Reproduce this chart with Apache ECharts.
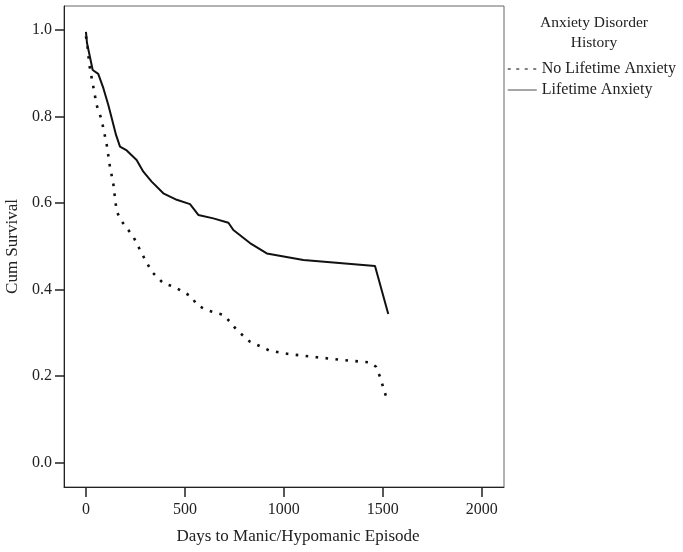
<!DOCTYPE html>
<html>
<head>
<meta charset="utf-8">
<script src="https://cdn.jsdelivr.net/npm/echarts@6/dist/echarts.min.js"></script>
<style>
body { margin: 0; background: #fff; }
#main { width: 683px; height: 552px; }
</style>
</head>
<body>
<div id="main"></div>
<script>
// Kaplan-Meier curves, values
var lifetimeDays = [0, 5, 34, 62, 88, 113, 130, 152, 172, 206, 256, 290, 332, 391, 459, 526, 568, 644, 720, 745, 829, 914, 1099, 1461, 1528];
var lifetimeSurv = [0.995, 0.97, 0.907, 0.898, 0.865, 0.826, 0.796, 0.757, 0.730, 0.721, 0.699, 0.672, 0.649, 0.622, 0.607, 0.597, 0.572, 0.564, 0.554, 0.537, 0.507, 0.483, 0.468, 0.454, 0.343];

var noLifetimeDays = [0, 8, 17, 54, 79, 105, 121, 138, 155, 181, 239, 282, 332, 391, 450, 534, 560, 610, 694, 728, 762, 829, 930, 1031, 1166, 1335, 1436, 1466, 1486, 1517];
var noLifetimeSurv = [0.985, 0.961, 0.919, 0.826, 0.792, 0.734, 0.684, 0.645, 0.580, 0.557, 0.522, 0.483, 0.441, 0.414, 0.405, 0.383, 0.364, 0.352, 0.341, 0.325, 0.306, 0.279, 0.258, 0.250, 0.243, 0.235, 0.231, 0.221, 0.198, 0.152];

var xTicks = [0, 500, 1000, 1500, 2000];
var yTicks = [0, 0.2, 0.4, 0.6, 0.8, 1.0];

function pairs(xs, ys) {
    return xs.map(function (x, i) { return [x, ys[i]]; });
}

var font = '"Liberation Serif", "Times New Roman", serif';
var chart = echarts.init(document.getElementById('main'));

var option = {
    animation: false,
    grid: {
        left: 64, right: 179, top: 6, bottom: 65,
        outerBoundsMode: 'none',
        containLabel: false,
        show: true,
        borderColor: '#666',
        borderWidth: 1
    },
    graphic: [{
        type: 'text',
        x: 594, y: 13,
        style: {
            text: 'Anxiety Disorder\nHistory',
            fontFamily: font,
            fontSize: 15.5,
            lineHeight: 20,
            fill: '#222',
            align: 'center'
        }
    }],
    legend: {
        orient: 'vertical',
        left: 507,
        top: 61,
        padding: 0,
        itemWidth: 29,
        itemHeight: 10,
        itemGap: 5,
        itemStyle: { opacity: 0 },
        textStyle: { fontFamily: font, fontSize: 16, color: '#222' },
        data: [
            { name: 'No Lifetime Anxiety', lineStyle: { color: '#555', type: [3, 5.5], width: 1.5 } },
            { name: 'Lifetime Anxiety', lineStyle: { color: '#888', width: 1.5 } }
        ]
    },
    xAxis: {
        type: 'value',
        min: -111,
        max: 2113,
        name: 'Days to Manic/Hypomanic Episode',
        nameLocation: 'middle',
        nameGap: 41,
        nameTextStyle: { fontFamily: font, fontSize: 17, color: '#222', padding: [0, 0, 0, 28] },
        axisLine: { onZero: false, lineStyle: { color: '#222', width: 1 } },
        axisTick: { customValues: xTicks, length: 10, lineStyle: { color: '#222', width: 1.5 } },
        axisLabel: {
            customValues: xTicks, margin: 15, fontFamily: font, fontSize: 16, color: '#222',
            formatter: function (v) { return String(v); }
        },
        splitLine: { show: false }
    },
    yAxis: {
        type: 'value',
        min: -0.057,
        max: 1.055,
        name: 'Cum Survival',
        nameLocation: 'middle',
        nameGap: 43,
        nameTextStyle: { fontFamily: font, fontSize: 17, color: '#222' },
        axisLine: { show: true, onZero: false, lineStyle: { color: '#222', width: 1 } },
        axisTick: { customValues: yTicks, length: 9, lineStyle: { color: '#222', width: 1.5 } },
        axisLabel: {
            customValues: yTicks, margin: 12, fontFamily: font, fontSize: 16, color: '#222',
            formatter: function (v) { return v.toFixed(1); }
        },
        splitLine: { show: false }
    },
    series: [
        {
            name: 'No Lifetime Anxiety',
            type: 'line',
            symbol: 'none',
            itemStyle: { color: '#111' },
            data: pairs(noLifetimeDays, noLifetimeSurv),
            lineStyle: { color: '#111', width: 2.6, type: [2.6, 7.4], cap: 'butt' }
        },
        {
            name: 'Lifetime Anxiety',
            type: 'line',
            symbol: 'none',
            itemStyle: { color: '#111' },
            data: pairs(lifetimeDays, lifetimeSurv),
            lineStyle: { color: '#111', width: 2 }
        }
    ]
};

chart.setOption(option);
</script>
</body>
</html>
